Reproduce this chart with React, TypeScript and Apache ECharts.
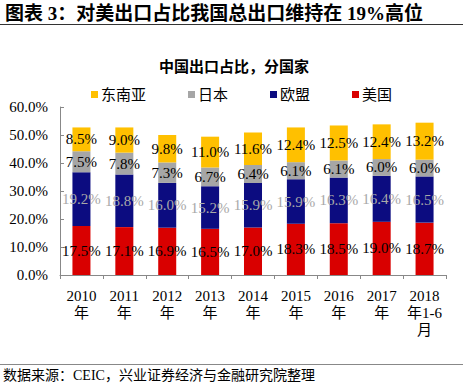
import React, { useEffect, useRef } from "react";
import * as echarts from "echarts";

const categories = [
  "2010\n年",
  "2011\n年",
  "2012\n年",
  "2013\n年",
  "2014\n年",
  "2015\n年",
  "2016\n年",
  "2017\n年",
  "2018\n年1-6\n月",
];
const seriesNames = ["美国", "欧盟", "日本", "东南亚"];
const legendOrder = ["东南亚", "日本", "欧盟", "美国"];
const usValues = [17.5, 17.1, 16.9, 16.5, 17.0, 18.3, 18.5, 19.0, 18.7];
const euValues = [19.2, 18.8, 16.0, 15.2, 15.9, 15.9, 16.3, 16.4, 16.5];
const japanValues = [7.5, 7.8, 7.3, 6.7, 6.4, 6.1, 6.1, 6.0, 6.0];
const aseanValues = [8.5, 9.0, 9.8, 11.0, 11.6, 12.4, 12.5, 12.4, 13.2];
const yMin = 0;
const yMax = 60;
const yInterval = 10;

const SERIF = '"Liberation Serif", "Times New Roman", "Noto Sans CJK SC", serif';
const colors = ["#d90000", "#0c0c80", "#a6a6a6", "#ffc000"];
const labelColors = ["#000000", "#a8a8a8", "#000000", "#000000"];

export default function App() {
  const ref = useRef<HTMLDivElement>(null);
  useEffect(() => {
    document.body.style.margin = "0";
    if (!ref.current) return;
    const chart = echarts.init(ref.current, undefined, { renderer: "svg" });
    const allValues = [usValues, euValues, japanValues, aseanValues];
    chart.setOption({
      animation: false,
      backgroundColor: "#ffffff",
      title: {
        text: "中国出口占比，分国家",
        left: "center",
        top: 54,
        textStyle: { fontFamily: SERIF, fontSize: 15, fontWeight: "bold", color: "#000" },
      },
      legend: {
        data: legendOrder,
        left: 86,
        top: 82,
        itemWidth: 7,
        itemHeight: 7,
        itemGap: 42,
        icon: "rect",
        textStyle: { fontFamily: SERIF, fontSize: 15, color: "#000", padding: [0, 0, 0, -2] },
      },
      grid: { left: 60, right: 22, top: 107, bottom: 111, containLabel: false },
      xAxis: {
        type: "category",
        data: categories,
        axisLine: { lineStyle: { color: "#888888" } },
        axisTick: { show: true, alignWithLabel: false, length: 4, lineStyle: { color: "#888888" } },
        axisLabel: {
          fontFamily: SERIF,
          fontSize: 15,
          color: "#000",
          lineHeight: 17,
          margin: 12,
          interval: 0,
        },
      },
      yAxis: {
        type: "value",
        min: yMin,
        max: yMax,
        interval: yInterval,
        axisLine: { show: true, lineStyle: { color: "#888888" } },
        axisTick: { show: true, inside: true, length: 4, lineStyle: { color: "#888888" } },
        splitLine: { show: false },
        axisLabel: {
          fontFamily: SERIF,
          fontSize: 15,
          color: "#000",
          margin: 12,
          formatter: (v: number) => v.toFixed(1) + "%",
        },
      },
      series: seriesNames.map((name, i) => ({
        name,
        type: "bar",
        stack: "total",
        barWidth: "42%",
        data: allValues[i],
        itemStyle: { color: colors[i] },
        label: {
          show: true,
          position: "inside",
          fontFamily: SERIF,
          fontSize: 15,
          color: labelColors[i],
          formatter: (p: any) => Number(p.value).toFixed(1) + "%",
        },
      })),
      graphic: [
        {
          type: "text",
          left: 5,
          top: 4,
          style: {
            text: "图表 3：对美出口占比我国总出口维持在 19%高位",
            fontFamily: SERIF,
            fontSize: 19,
            fontWeight: "bold",
            fill: "#000",
          },
        },
        {
          type: "line",
          shape: { x1: 0, y1: 24.5, x2: 463, y2: 24.5 },
          style: { stroke: "#333", lineWidth: 1 },
        },
        {
          type: "line",
          shape: { x1: 0, y1: 364.5, x2: 463, y2: 364.5 },
          style: { stroke: "#888", lineWidth: 1 },
        },
        {
          type: "text",
          left: 3,
          top: 368,
          style: {
            text: "数据来源：CEIC，兴业证券经济与金融研究院整理",
            fontFamily: SERIF,
            fontSize: 14,
            fill: "#000",
          },
        },
      ],
    });
    return () => chart.dispose();
  }, []);
  return <div ref={ref} style={{ width: 468, height: 386 }} />;
}
